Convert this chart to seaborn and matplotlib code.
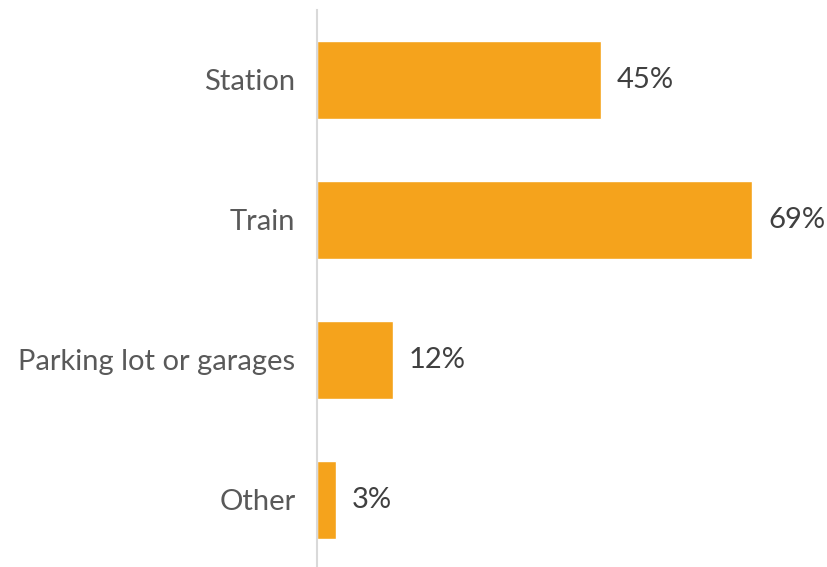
import matplotlib
matplotlib.use("Agg")
import matplotlib.pyplot as plt
import seaborn as sns
import pandas as pd

categories = ["Station", "Train", "Parking lot or garages", "Other"]
values = [45, 69, 12, 3]

sns.set_theme(style="white")
plt.rcParams['font.family'] = ['Lato', 'DejaVu Sans']

df = pd.DataFrame({"cat": categories, "val": values})

fig = plt.figure(figsize=(8.27, 5.67), dpi=100)
W, H = 827, 567
ax = fig.add_axes([317/W, 0, (800-317)/W, (567-10)/H])

sns.barplot(data=df, x="val", y="cat", orient="h", color="#F5A31C",
            saturation=1, width=78/140, ax=ax)

ax.set_xlim(0, 69*(800-317)/(752-317))
ax.set_ylim(3.479, -0.5)
ax.set_xlabel("")
ax.set_ylabel("")
ax.set_xticks([])
for s in ["top", "right", "bottom"]:
    ax.spines[s].set_visible(False)
ax.spines["left"].set_color("#D9D9D9")
ax.spines["left"].set_linewidth(1.5)
ax.tick_params(axis="y", length=0, pad=15.5, labelsize=21, labelcolor="#595959")

for c in ax.containers:
    ax.bar_label(c, labels=[f"{v}%" for v in values], padding=11.5,
                 fontsize=21, color="#404040")

fig.savefig("out.png", dpi=100)
